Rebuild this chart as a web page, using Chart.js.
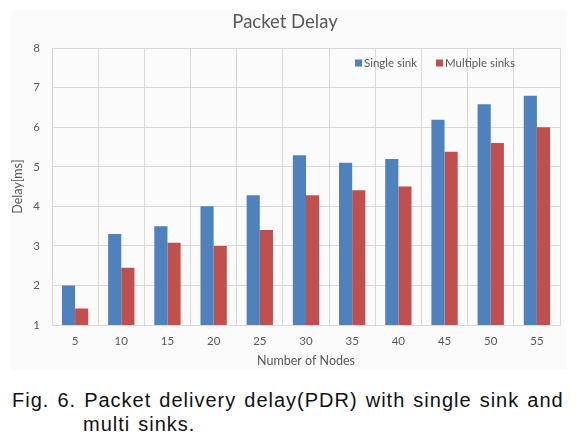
<!DOCTYPE html>
<html>
<head>
<meta charset="utf-8">
<script src="https://cdn.jsdelivr.net/npm/chart.js@4.4.0/dist/chart.umd.min.js"></script>
<style>
  html, body { margin: 0; padding: 0; background: #fff; }
  #wrap { position: relative; width: 584px; height: 445px; overflow: hidden; }
  #chart-box { position: absolute; left: 0; top: 0; width: 584px; height: 380px; }
  .caption { position: absolute; font-family: "Liberation Sans", Arial, sans-serif; font-size: 20px; line-height: 23px;
             letter-spacing: 1px; word-spacing: 1.5px; color: #111; white-space: nowrap; }
</style>
</head>
<body>
<div id="wrap">
  <div id="chart-box"><canvas id="delay-chart" width="584" height="380"></canvas></div>
  <div class="caption" style="left:12px; top:389px;">Fig. 6. Packet delivery delay(PDR) with single sink and</div>
  <div class="caption" style="left:83px; top:413px;">multi sinks.</div>
</div>
<script>
// node counts on the x axis
const nodeCounts = ["5", "10", "15", "20", "25", "30", "35", "40", "45", "50", "55"];
// delay in ms
const singleSink = [2.0, 3.3, 3.5, 4.0, 4.28, 5.29, 5.1, 5.2, 6.19, 6.58, 6.8];
const multipleSinks = [1.42, 2.45, 3.08, 3.0, 3.4, 4.28, 4.41, 4.5, 5.38, 5.6, 6.0];
const seriesNames = ["Single sink", "Multiple sinks"];

const blue = "#4f81bd";
const red = "#c0504d";
const textGray = "#595959";
const gridGray = "#d9d9d9";
const fontFam = "Lato, 'Open Sans', sans-serif";

// faint panel behind the chart, like the office chart frame
const panelBg = {
    id: "panelBg",
    beforeDraw(chart) {
        const ctx = chart.ctx;
        ctx.save();
        ctx.fillStyle = "#fbfbfb";
        ctx.fillRect(10, 10, 557, 360);
        ctx.restore();
    }
};

// legend sits inside the plot, top right
const insideLegend = {
    id: "insideLegend",
    afterDraw(chart) {
        const ctx = chart.ctx;
        const y = 63;
        const items = [
            { x: 355, text: seriesNames[0], color: blue },
            { x: 436, text: seriesNames[1], color: red }
        ];
        ctx.save();
        ctx.font = "11.5px " + fontFam;
        ctx.textBaseline = "middle";
        items.forEach(it => {
            ctx.fillStyle = it.color;
            ctx.fillRect(it.x, y - 3.5, 7, 7);
            ctx.fillStyle = textGray;
            ctx.fillText(it.text, it.x + 9, y);
        });
        ctx.restore();
    }
};

const ctx = document.getElementById("delay-chart").getContext("2d");
new Chart(ctx, {
    type: "bar",
    data: {
        labels: nodeCounts,
        datasets: [
            { label: seriesNames[0], data: singleSink, backgroundColor: blue },
            { label: seriesNames[1], data: multipleSinks, backgroundColor: red }
        ]
    },
    options: {
        responsive: false,
        animation: false,
        layout: { padding: { left: 10, right: 24, top: 0, bottom: 12 } },
        datasets: { bar: { categoryPercentage: 0.57, barPercentage: 1.0 } },
        plugins: {
            legend: { display: false },
            tooltip: { enabled: false },
            title: {
                display: true,
                text: "Packet Delay",
                color: textGray,
                font: { family: fontFam, size: 18.5, weight: "normal" },
                padding: { top: 11, bottom: 15 }
            }
        },
        scales: {
            x: {
                grid: { color: gridGray, offset: true, drawTicks: false },
                border: { color: gridGray },
                ticks: { color: textGray, font: { family: fontFam, size: 11.5 }, padding: 9 },
                title: {
                    display: true,
                    text: "Number of Nodes",
                    color: textGray,
                    font: { family: fontFam, size: 12.5 },
                    padding: { top: 4, bottom: 0 }
                },
                afterFit: s => { s.height = 43; }
            },
            y: {
                min: 1,
                max: 8,
                grid: { color: gridGray, drawTicks: false },
                border: { color: gridGray },
                ticks: { stepSize: 1, color: textGray, font: { family: fontFam, size: 11.5 }, padding: 12 },
                title: {
                    display: true,
                    text: "Delay[ms]",
                    color: textGray,
                    font: { family: fontFam, size: 12.5 },
                    padding: { top: 0, bottom: 0 }
                },
                afterFit: s => { s.width = 42; }
            }
        }
    },
    plugins: [panelBg, insideLegend]
});
</script>
</body>
</html>
